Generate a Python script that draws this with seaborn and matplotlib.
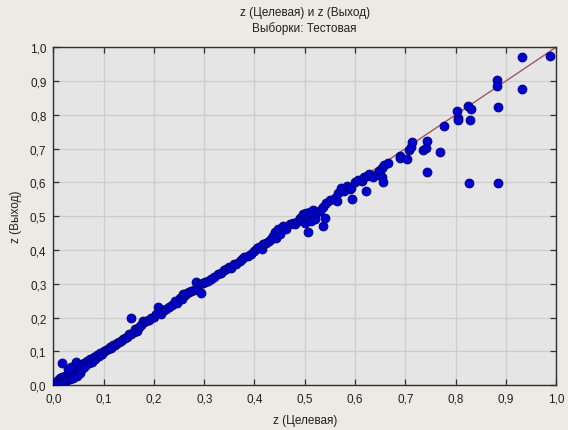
import matplotlib
matplotlib.use("Agg")
import matplotlib.pyplot as plt
import seaborn as sns
import pandas as pd

# ---- data ----
target = [
    0.003, 0.006, 0.008, 0.010, 0.012, 0.014, 0.016, 0.018, 0.020, 0.022, 0.024, 0.026, 0.028, 0.030,
    0.032, 0.034, 0.036, 0.038, 0.040, 0.042, 0.044, 0.046, 0.048, 0.050, 0.052, 0.017, 0.045, 0.035,
    0.030, 0.055, 0.058, 0.060,
    0.063, 0.066, 0.070, 0.073, 0.076, 0.080, 0.083, 0.087, 0.090, 0.093, 0.097, 0.100, 0.104, 0.108,
    0.112, 0.115, 0.118, 0.122, 0.126, 0.130, 0.134, 0.138, 0.142, 0.146, 0.150, 0.155, 0.160, 0.163,
    0.166, 0.170, 0.155, 0.175, 0.178, 0.181, 0.185, 0.190, 0.195, 0.200, 0.205, 0.210, 0.208,
    0.214, 0.220, 0.225, 0.230, 0.235, 0.241, 0.246, 0.251, 0.255, 0.258, 0.262, 0.266, 0.270, 0.274,
    0.279, 0.284, 0.284, 0.291, 0.294, 0.297, 0.301, 0.307, 0.314, 0.320, 0.327, 0.334, 0.340, 0.344,
    0.350, 0.354, 0.360, 0.364, 0.371, 0.375, 0.380, 0.387, 0.394, 0.400, 0.405, 0.410, 0.414, 0.417,
    0.422, 0.428, 0.433, 0.437, 0.440, 0.442, 0.447, 0.450,
    0.457, 0.462, 0.470, 0.477, 0.480, 0.487, 0.490, 0.493, 0.497, 0.500, 0.500, 0.503, 0.507, 0.507,
    0.510, 0.513, 0.516, 0.520, 0.523, 0.530, 0.536, 0.536, 0.540, 0.543, 0.550, 0.560, 0.564, 0.566,
    0.573, 0.578, 0.585, 0.590, 0.593, 0.595, 0.600,
    0.605, 0.613, 0.618, 0.622, 0.623, 0.628, 0.636, 0.643, 0.648, 0.653, 0.653, 0.656, 0.658, 0.665,
    0.689, 0.689, 0.703, 0.707, 0.711, 0.713,
    0.736, 0.741, 0.744, 0.744, 0.769, 0.777, 0.805, 0.805, 0.803, 0.825, 0.830, 0.829, 0.826, 0.882,
    0.882, 0.885, 0.885, 0.932, 0.933, 0.987,
]
output = [
    0.002, 0.010, 0.004, 0.015, 0.008, 0.020, 0.012, 0.025, 0.016, 0.010, 0.028, 0.020, 0.014, 0.033,
    0.024, 0.018, 0.040, 0.030, 0.022, 0.045, 0.036, 0.028, 0.050, 0.042, 0.035, 0.067, 0.070, 0.055,
    0.048, 0.060, 0.050, 0.065,
    0.058, 0.072, 0.066, 0.078, 0.070, 0.082, 0.076, 0.088, 0.085, 0.094, 0.092, 0.100, 0.103, 0.106,
    0.112, 0.110, 0.118, 0.120, 0.124, 0.127, 0.132, 0.136, 0.140, 0.142, 0.150, 0.152, 0.158, 0.165,
    0.160, 0.172, 0.198, 0.178, 0.190, 0.186, 0.190, 0.194, 0.198, 0.203, 0.210, 0.225, 0.230,
    0.212, 0.222, 0.226, 0.232, 0.236, 0.249, 0.242, 0.259, 0.256, 0.269, 0.266, 0.274, 0.276, 0.279,
    0.282, 0.284, 0.306, 0.299, 0.274, 0.301, 0.304, 0.309, 0.314, 0.320, 0.328, 0.333, 0.340, 0.343,
    0.350, 0.348, 0.360, 0.358, 0.368, 0.374, 0.378, 0.383, 0.388, 0.397, 0.405, 0.408, 0.402, 0.417,
    0.420, 0.426, 0.432, 0.442, 0.452, 0.436, 0.462, 0.448,
    0.470, 0.462, 0.476, 0.481, 0.478, 0.486, 0.496, 0.490, 0.506, 0.481, 0.500, 0.510, 0.501, 0.452,
    0.512, 0.486, 0.518, 0.491, 0.511, 0.516, 0.526, 0.471, 0.496, 0.540, 0.548, 0.555, 0.545, 0.570,
    0.585, 0.576, 0.590, 0.582, 0.585, 0.552, 0.600,
    0.606, 0.604, 0.616, 0.575, 0.620, 0.624, 0.617, 0.624, 0.634, 0.644, 0.615, 0.601, 0.652, 0.657,
    0.678, 0.672, 0.668, 0.696, 0.706, 0.721,
    0.696, 0.703, 0.723, 0.632, 0.691, 0.767, 0.792, 0.785, 0.810, 0.826, 0.818, 0.784, 0.598, 0.902,
    0.885, 0.824, 0.598, 0.971, 0.876, 0.975,
]
fit_x = [0.0, 1.0]
fit_y = [0.0, 1.0]

tick_values = [0.0, 0.1, 0.2, 0.3, 0.4, 0.5, 0.6, 0.7, 0.8, 0.9, 1.0]
tick_labels = ["0,0", "0,1", "0,2", "0,3", "0,4", "0,5", "0,6", "0,7", "0,8", "0,9", "1,0"]

title_text = "z (Целевая) и z (Выход)\nВыборки: Тестовая"
x_label = "z (Целевая)"
y_label = "z (Выход)"

# ---- style ----
sns.set_style("whitegrid")
plt.rcParams["font.family"] = ["Liberation Sans", "DejaVu Sans"]
plt.rcParams["font.size"] = 8.5

df = pd.DataFrame({"target": target, "output": output})
line_df = pd.DataFrame({"x": fit_x, "y": fit_y})

fig = plt.figure(figsize=(5.68, 4.31), dpi=100, facecolor="#ECEAE5")
ax = fig.add_axes([0.094, 0.104, 0.885, 0.784])
ax.set_facecolor("#E5E5E5")

sns.lineplot(data=line_df, x="x", y="y", ax=ax, color="#A0585E", linewidth=1.0, zorder=2)
sns.scatterplot(data=df, x="target", y="output", ax=ax, color="#0000D0",
                edgecolor="#000080", linewidth=0.7, s=40, zorder=3)

ax.set_xlim(0, 1)
ax.set_ylim(0, 1)
ax.set_xticks(tick_values)
ax.set_yticks(tick_values)
ax.set_xticklabels(tick_labels)
ax.set_yticklabels(tick_labels)
ax.grid(True, color="#CDCDCD", linewidth=0.9)
ax.set_axisbelow(True)

for side in ["left", "bottom", "top", "right"]:
    ax.spines[side].set_visible(True)
    ax.spines[side].set_color("#303030")
    ax.spines[side].set_linewidth(1.0)

ax.tick_params(axis="both", which="both", direction="in", length=4, width=0.9,
               color="#303030", labelsize=8.5, labelcolor="#202020",
               top=True, right=True, bottom=True, left=True)
ax.tick_params(axis="x", pad=5)
ax.tick_params(axis="y", pad=5)

ax.set_xlabel(x_label, fontsize=8.5, color="#202020", labelpad=7)
ax.set_ylabel(y_label, fontsize=8.5, color="#202020", labelpad=6)
ax.set_title(title_text, fontsize=8.5, color="#202020", pad=12, linespacing=1.25)

fig.savefig("out.png", dpi=100, facecolor=fig.get_facecolor())
